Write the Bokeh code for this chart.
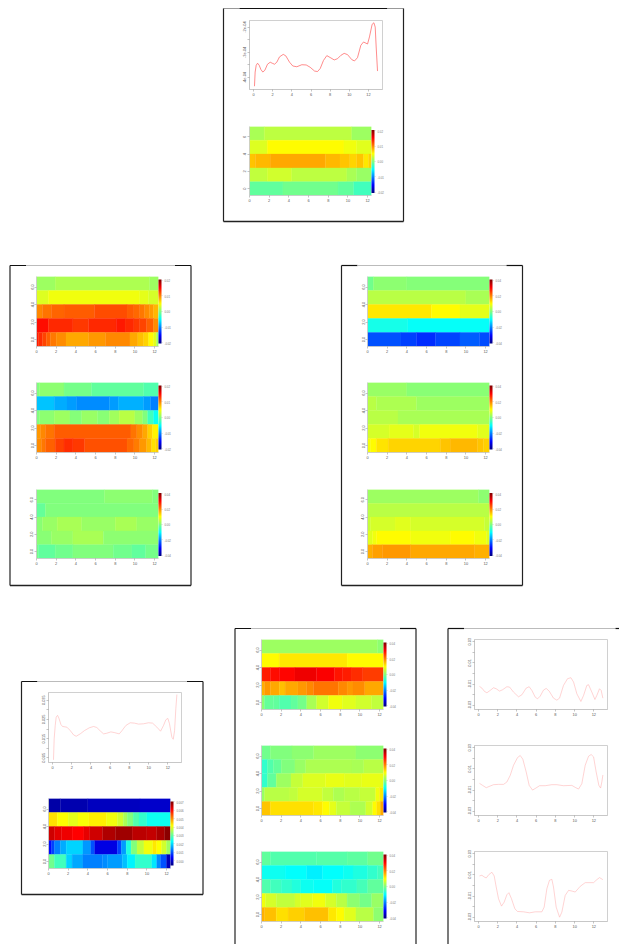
from bokeh.plotting import figure
from bokeh.layouts import column
from bokeh.models import ColorBar, LinearColorMapper, FixedTicker, ColumnDataSource, Range1d
from bokeh.transform import linear_cmap
from bokeh.embed import file_html
from bokeh.resources import INLINE
import numpy as np

FONT = "Liberation Sans"
XTICKS = [0, 2, 4, 6, 8, 10, 12]
HEAT_YTICKS = [0, 2, 4, 6]

# ---- line series (y values in the units named in the array name) ----
top_x = [0.10,0.17,0.28,0.42,0.59,0.77,0.97,1.18,1.46,1.74,1.95,2.19,2.43,2.71,3.10,3.37,3.76,4.10,4.52,5.04,5.50,5.91,6.37,6.68,6.96,7.30,7.65,8.07,8.42,8.77,9.11,9.46,9.81,10.26,10.54,10.85,11.20,11.48,11.90,12.10,12.38,12.56,12.70,12.80,12.94]
top_y_e4 = [-4.34,-3.78,-3.51,-3.43,-3.51,-3.68,-3.78,-3.71,-3.47,-3.39,-3.43,-3.47,-3.39,-3.18,-3.08,-3.14,-3.39,-3.54,-3.57,-3.49,-3.50,-3.59,-3.74,-3.76,-3.64,-3.32,-3.13,-3.22,-3.30,-3.25,-3.12,-3.04,-3.09,-3.29,-3.34,-3.21,-2.72,-2.59,-2.67,-2.39,-1.89,-1.83,-2.00,-2.79,-3.74]
bl_x = [.10,.17,.28,.38,.52,.66,.87,1.04,1.49,1.84,2.19,2.46,2.88,3.33,3.82,4.27,4.61,4.96,5.31,5.65,6.07,6.42,6.94,7.21,7.63,8.08,8.53,8.95,9.47,9.99,10.41,10.86,11.24,11.55,11.79,12.00,12.17,12.42,12.56,12.70,12.83,12.94]
bl_y_e3 = [3.95,14.83,21.84,26.23,27.11,25.70,22.37,21.32,20.97,19.21,16.93,16.23,17.46,19.21,20.62,21.32,20.79,19.04,17.46,17.81,18.51,18.16,17.46,19.04,21.84,23.25,23.07,22.55,22.72,23.25,23.07,20.97,18.86,21.84,24.83,25.53,22.72,15.71,14.65,19.21,30.61,37.98]
r1_x = [.10,.35,.62,.87,1.21,1.56,1.84,2.19,2.50,2.95,3.23,3.64,4.16,4.51,4.96,5.27,5.55,5.90,6.14,6.42,6.76,7.04,7.35,7.80,8.15,8.43,8.84,9.26,9.61,9.89,10.23,10.65,10.93,11.27,11.45,11.79,12.11,12.31,12.59,12.76,12.94]
r1_y_e3 = [-12.23,-13.82,-16.99,-18.26,-16.04,-13.50,-14.45,-16.67,-15.40,-12.55,-12.86,-17.63,-22.07,-20.17,-13.82,-12.55,-16.04,-22.39,-23.98,-21.44,-15.72,-14.13,-16.67,-23.34,-25.25,-23.34,-11.28,-4.93,-3.97,-8.10,-19.21,-26.52,-20.80,-11.28,-10.64,-17.63,-24.61,-20.80,-14.45,-16.04,-23.34]
r2_x = [.10,.42,.80,1.21,1.56,2.08,2.60,2.95,3.30,3.64,4.06,4.34,4.61,4.96,5.27,5.62,5.97,6.35,6.94,7.63,8.15,8.84,9.71,10.06,10.41,10.75,11.10,11.45,11.72,11.97,12.24,12.52,12.70,12.83,12.94]
r2_y_e3 = [-3.66,-5.56,-7.78,-6.20,-4.93,-4.61,-4.61,-2.39,3.96,13.49,20.79,22.70,19.21,7.14,-5.56,-10.01,-8.10,-5.88,-5.88,-4.93,-4.93,-5.88,-5.56,-7.47,-9.05,-3.97,13.49,22.06,23.65,21.43,7.14,-5.56,-8.10,-2.39,4.28]
r3_x = [.10,.35,.59,.80,1.07,1.39,1.63,1.84,2.08,2.39,2.67,2.95,3.16,3.43,3.78,4.06,4.68,5.31,5.90,6.59,6.83,7.11,7.38,7.63,7.80,8.08,8.43,8.67,9.02,9.37,9.71,10.06,10.58,11.10,11.97,12.31,12.59,12.94]
r3_y_e3 = [9.05,9.68,8.09,7.14,10.32,12.54,9.05,-1.43,-12.55,-19.53,-15.72,-8.74,-6.83,-12.55,-22.07,-24.61,-24.93,-25.88,-24.93,-24.93,-20.48,-3.02,4.92,5.87,-1.43,-20.48,-30.01,-25.25,-9.37,-4.61,-5.24,-6.20,-0.80,2.70,2.70,5.55,7.46,5.55]

# ---- heat maps: each row (top to bottom) is (bin end times, levels in % of half the scale) ----
heat_top = [
 ([1.5,10.4,12.4],[8,12,6]),
 ([1.8,9.6,10.9,12.4],[18,25,22,19]),
 ([.6,2.1,7.7,9.2,10.2,10.9,11.6,12.1,12.4],[36,39,42,39,36,33,36,29,34]),
 ([1.8,4.3,9.9,10.9,12.4],[13,16,12,8,5]),
 ([3.4,9,10.6,12.4],[-6,-3,-6,-12]),
]
heat_a = [
 ([1.9,11.5,12.4],[6,9,6]),
 ([1.2,10.5,11.4,12.4],[18,22,20,17]),
 ([.6,1.5,2.8,5.9,9.2,9.9,10.5,11,11.5,11.9,12.4],[48,52,55,57,60,57,54,51,47,44,39]),
 ([1.2,3.7,5.3,8.1,9,9.9,10.5,11.2,11.9,12.4],[72,67,64,67,70,67,64,61,56,47]),
 ([.2,.6,1,1.4,2,3,5.3,7,9.5,10.3,10.9,11.4,11.9,12.2,12.4],[69,66,61,56,51,47,42,45,48,42,37,33,25,19,6]),
]
heat_b = [
 ([.3,2.8,5.6,10.9,12.4],[0,3,-2,-6,-9]),
 ([1.8,3.1,4.1,7.4,8.3,10.9,11.6,12.4],[-36,-41,-44,-47,-44,-40,-44,-50]),
 ([.3,1.8,3.4,4.6,6.2,7.4,8.4,10,10.8,11.3,11.9,12.4],[0,3,6,1,5,2,7,11,6,0,-12,-23]),
 ([.4,.9,1.8,9.6,10.2,10.8,11.3,11.8,12.4],[45,48,52,57,52,47,42,34,27]),
 ([.5,.9,1.9,2.8,3.7,4.9,9.2,9.9,10.5,11.2,11.7,12.1,12.4],[47,51,56,62,66,64,59,54,50,45,39,31,34]),
]
heat_c = [
 ([6.9,11.8,12.4],[0,3,0]),
 ([.9,12.4],[-5,0]),
 ([.6,2.1,4.6,8,10.2,12.4],[2,5,8,5,8,5]),
 ([1.5,3.7,6.8,12.4],[2,5,8,3]),
 ([.2,1.9,3.7,7.8,9.7,11.1,12.4],[-2,-6,-3,0,-3,-6,-2]),
]
heat_d = [
 ([.6,4,12.4],[-3,3,1]),
 ([10,12.4],[11,8]),
 ([6.5,9.4,12.4],[29,25,20]),
 ([4.1,12.4],[-21,-24]),
 ([3.4,5,6.9,9.4,11.4,12.4],[-59,-62,-66,-61,-57,-60]),
]
heat_e = [
 ([4,12.4],[5,2]),
 ([.9,5,12.4],[11,9,6]),
 ([3.1,12.4],[11,8]),
 ([2.2,4.7,5.3,11.2,12.4],[17,20,17,22,19]),
 ([.3,.9,2.1,7.4,8.4,11.2,11.8,12.4],[22,25,30,33,36,39,36,34]),
]
heat_f = [
 ([11.3,12.4],[6,3]),
 ([12.4],[11]),
 ([.3,2.8,4.4,11.9,12.4],[14,17,19,17,14]),
 ([.5,.9,4.4,8.4,10.9,12.1,12.4],[19,22,25,22,25,22,19]),
 ([.5,1.5,4.4,10.9,12.4],[40,43,45,42,40]),
]
heat_g = [
 ([11.8,12.4],[6,3]),
 ([1.8,8.7,12.4],[25,29,25]),
 ([.9,1.8,3.4,5.6,7.4,8.2,9.1,10.3,12.4],[69,72,74,78,75,71,69,66,63]),
 ([.3,.9,1.8,2.4,3.7,4.6,5.3,7.8,8.7,9.3,10.5,12.4],[40,45,42,37,42,45,48,52,48,45,47,42]),
 ([.3,1.2,1.8,3,3.7,4.6,5.6,6.8,8.2,9.6,11.2,12.4],[3,-5,-6,-9,-6,-2,8,16,22,19,16,13]),
]
heat_h = [
 ([.9,3.1,5.3,9.6,12.4],[-3,0,3,6,3]),
 ([.6,1.2,2,3.4,4.5,9.2,10.4,12.4],[-15,-9,-5,0,5,9,8,11]),
 ([.6,1.5,3,4.2,6.5,8.4,10.2,12.4],[-15,-6,6,14,18,21,19,21]),
 ([.3,2.8,3.7,6.2,7.3,8.4,10,11.6,12,12.4],[5,11,13,17,13,9,11,14,22,29]),
 ([.9,5.3,6.2,6.9,7.6,9,10.6,11.3,11.7,12.1,12.4],[36,31,29,25,20,14,9,16,25,31,42]),
]
heat_i = [
 ([.9,5.6,8.7,10.8,12.4],[-6,-9,-8,-7,-3]),
 ([2.4,4.6,6.2,8.3,9.3,10.8,11.8,12.4],[-22,-25,-28,-25,-22,-19,-15,-12]),
 ([.9,2,3.1,4,5.3,7.2,8.1,9.7,10.8,12.4],[-9,-12,-15,-18,-22,-24,-18,-15,-11,-6]),
 ([.4,1.5,3.4,4,5.2,6.5,7.6,8.7,10,11.2,12.4],[22,17,13,17,19,22,17,11,3,-2,5]),
 ([.3,1.5,2.7,4.4,6.8,7.6,8.4,9.6,11.4,12.4],[40,37,31,34,37,29,25,19,11,3]),
]
heat_j = [
 ([1.2,4,9.3,12.4],[-92,-90,-87,-85]),
 ([.9,2,3,4.1,5.9,7,7.6,8,8.6,9.2,10,12.4],[31,25,20,24,28,22,16,8,0,-9,-15,-22]),
 ([.6,1.3,2.4,3.6,4.2,5.5,6.8,8.5,10,11,11.8,12.4],[84,80,78,75,79,84,90,93,88,86,91,97]),
 ([.3,.6,1.2,1.8,3.5,4.3,4.7,7,7.4,7.9,8.4,9,9.7,10.6,11,11.5,12,12.4],[-73,-62,-50,-41,-33,-45,-59,-80,-62,-44,-19,0,13,22,29,25,16,6]),
 ([.6,1.8,2.4,3.5,5.5,6,7.5,8,8.8,10.5,11,11.4,12,12.4],[-3,-12,-33,-42,-50,-47,-44,-37,-27,-15,-29,-47,-59,-88]),
]

# colour-bar scales
ticks_02 = [-0.02, -0.01, 0.0, 0.01, 0.02]
ticks_04 = [-0.04, -0.02, 0.0, 0.02, 0.04]
ticks_007 = [0.0, 0.001, 0.002, 0.003, 0.004, 0.005, 0.006, 0.007]

# matlab.like / jet ramp
stops = ["#00007F","#0000FF","#007FFF","#00FFFF","#7FFF7F","#FFFF00","#FF7F00","#FF0000","#7F0000"]
rgb = np.array([[int(s[i:i+2],16) for i in (1,3,5)] for s in stops], float)
t = np.linspace(0, 8, 256)
JET = ["#%02x%02x%02x" % tuple(int(round(np.interp(v, range(9), rgb[:,k]))) for k in range(3)) for v in t]

AX = "#c4c4c4"
TXT = "#555555"
FS = "3.9px"
L, TOPM, BOT = 22, 2, 12

def style(p):
    p.grid.visible = False
    for a in list(p.xaxis) + list(p.yaxis):
        a.axis_line_color = AX; a.axis_line_width = 0.8
        a.major_tick_line_color = "#8a8a8a"; a.major_tick_line_width = 0.5
        a.major_tick_out = 2; a.major_tick_in = 0
        a.minor_tick_line_color = None
        a.major_label_text_font = FONT; a.major_label_text_font_size = FS
        a.major_label_text_color = TXT; a.major_label_standoff = 1
    p.xaxis.ticker = FixedTicker(ticks=XTICKS)
    p.yaxis.major_label_orientation = "vertical"

def place(x, y):
    return {"position": "absolute", "left": f"{x-L}px", "top": f"{y-TOPM}px"}

def line_panel(x, y, w, h, xs, ys, xr, yr, ticks, labels, lw, color):
    p = figure(output_backend="svg", toolbar_location=None, frame_width=w, frame_height=h,
               x_range=Range1d(*xr), y_range=Range1d(*yr), frame_align=False,
               min_border_left=L, min_border_right=2, min_border_top=TOPM, min_border_bottom=BOT,
               outline_line_color=AX, outline_line_width=0.8, background_fill_color="white",
               border_fill_color=None, styles=place(x, y))
    p.line(xs, ys, line_color=color, line_width=lw)
    style(p)
    p.yaxis.ticker = FixedTicker(ticks=ticks)
    p.yaxis.major_label_overrides = dict(zip(ticks, labels))
    return p

def heat_panel(x, y, w, h, rows, ticks, low, high, fmt, cbh, ylabels):
    left, right, bottom, top, val = [], [], [], [], []
    for i, (ends, levels) in enumerate(rows):
        c = 6.4 - 1.6 * i
        start = 0.0
        for e, lv in zip(ends, levels):
            left.append(start); right.append(e); bottom.append(c-.8); top.append(c+.8)
            val.append((low+high)/2 + lv/100*(high-low)/2)
            start = e
    src = ColumnDataSource(dict(left=left, right=right, bottom=bottom, top=top, val=val))
    p = figure(output_backend="svg", toolbar_location=None, frame_width=w, frame_height=h,
               x_range=Range1d(0, 12.4), y_range=Range1d(-0.8, 7.2), frame_align=False,
               min_border_left=L, min_border_right=2, min_border_top=TOPM, min_border_bottom=BOT,
               outline_line_color=None, border_fill_color=None, styles=place(x, y))
    cm = linear_cmap("val", JET, low, high)
    p.quad(left="left", right="right", bottom="bottom", top="top", source=src,
           fill_color=cm, line_color=cm, line_width=0.3)
    style(p)
    p.yaxis.ticker = FixedTicker(ticks=HEAT_YTICKS)
    p.yaxis.major_label_overrides = dict(zip(HEAT_YTICKS, ylabels))
    mapper = LinearColorMapper(palette=JET, low=low, high=high)
    ticks_fmt = {tk: (fmt % tk) for tk in ticks}
    cb = ColorBar(color_mapper=mapper, width=3, height=cbh, location="center_left", margin=4, padding=0,
                  ticker=FixedTicker(ticks=ticks), major_label_overrides=ticks_fmt,
                  major_label_text_font=FONT, major_label_text_font_size="2.8px",
                  major_label_text_color="#777777", label_standoff=2,
                  major_tick_line_color="#999999", major_tick_line_width=0.4, major_tick_out=1, major_tick_in=0,
                  bar_line_color=None, background_fill_color=None, title=None)
    p.add_layout(cb, "right")
    return p

# frame outlines on a full-page canvas
bg = figure(output_backend="svg", toolbar_location=None, frame_width=619, frame_height=944,
            x_range=Range1d(0, 619), y_range=Range1d(944, 0), frame_align=False,
            min_border_left=0, min_border_right=0, min_border_top=0, min_border_bottom=0,
            outline_line_color=None, border_fill_color=None,
            background_fill_color=None, x_axis_type=None, y_axis_type=None,
            styles={"position": "absolute", "left": "0px", "top": "0px"})
bg.grid.visible = False
def frame(x0, y0, x1, y1, caps, mid, notch=16):
    segs = [(x0, y0, x0+notch, y0, caps, 1.2), (x0+notch, y0, x1-notch, y0, mid, 1.2), (x1-notch, y0, x1, y0, caps, 1.2),
            (x0, y0, x0, y1, "#222222", 1.2), (x1, y0, x1, y1, "#222222", 1.2), (x0, y1, x1, y1, "#222222", 1.3)]
    bg.segment([s[0] for s in segs], [s[1] for s in segs], [s[2] for s in segs], [s[3] for s in segs],
               line_color=[s[4] for s in segs], line_width=[s[5] for s in segs])

frame(223, 8, 403, 221, "#999999", "#111111")
frame(9.5, 265, 190.5, 585, "#111111", "#bbbbbb")
frame(341, 265, 522, 585, "#111111", "#bbbbbb")
frame(21, 681, 202.5, 894, "#111111", "#bbbbbb")
frame(234.5, 628, 415.5, 950, "#111111", "#bbbbbb")
frame(447.5, 628, 631, 950, "#111111", "#bbbbbb")

YL6 = ["0", "2", "4", "6"]
YL2 = ["0.0", "2.0", "4.0", "6.0"]
panels = [bg]
TOP_T = [-2, -2.5, -3, -3.5, -4]
panels.append(line_panel(249, 20, 133, 69, top_x, top_y_e4, (-0.42, 13.46), (-4.47, -1.74), TOP_T,
                         ["-2e-04", "", "-3e-04", "", "-4e-04"], 0.7, "#ff5a5a"))
panels.append(heat_panel(249, 126, 122, 69, heat_top, ticks_02, -0.0205, 0.0205, "%.2f", 63, YL6))
for y, rows, tk, lim, ch in [(276, heat_a, ticks_02, .0205, 64), (382, heat_b, ticks_02, .0205, 64), (489, heat_c, ticks_04, .041, 63)]:
    panels.append(heat_panel(36, y, 122, 70 if ch == 64 else 69, rows, tk, -lim, lim, "%.2f", ch, YL2))
for y, rows, ch in [(276, heat_d, 64), (382, heat_e, 64), (489, heat_f, 63)]:
    panels.append(heat_panel(367, y, 122, 70 if ch == 64 else 69, rows, ticks_04, -.041, .041, "%.2f", ch, YL2))
BL_T = [35, 30, 25, 20, 15, 10, 5]
panels.append(line_panel(48, 692, 133, 70, bl_x, bl_y_e3, (-0.42, 13.42), (2.55, 39.03), BL_T,
                         ["0.035", "", "0.025", "", "0.015", "", "0.005"], 0.5, "#ffa8a8"))
panels.append(heat_panel(48, 798, 122, 70, heat_j, ticks_007, -0.00056, 0.00704, "%.3f", 64, YL2))
for y, rows in [(639, heat_g), (745, heat_h), (851, heat_i)]:
    panels.append(heat_panel(261, y, 122, 70, rows, ticks_04, -.041, .041, "%.2f", 64, YL2))
R_T = [30, 20, 10, 0, -10, -20, -30]
R_L = ["0.03", "", "0.01", "", "-0.01", "", "-0.03"]
for y, xs, ys in [(639, r1_x, r1_y_e3), (745, r2_x, r2_y_e3), (851, r3_x, r3_y_e3)]:
    panels.append(line_panel(474, y, 133, 70, xs, ys, (-0.42, 13.42), (-34.1, 32.2), R_T, R_L, 0.5, "#ffa8a8"))

root = column(*panels, width=619, height=944, sizing_mode="fixed")
open("out.html", "w").write(file_html(root, INLINE))
